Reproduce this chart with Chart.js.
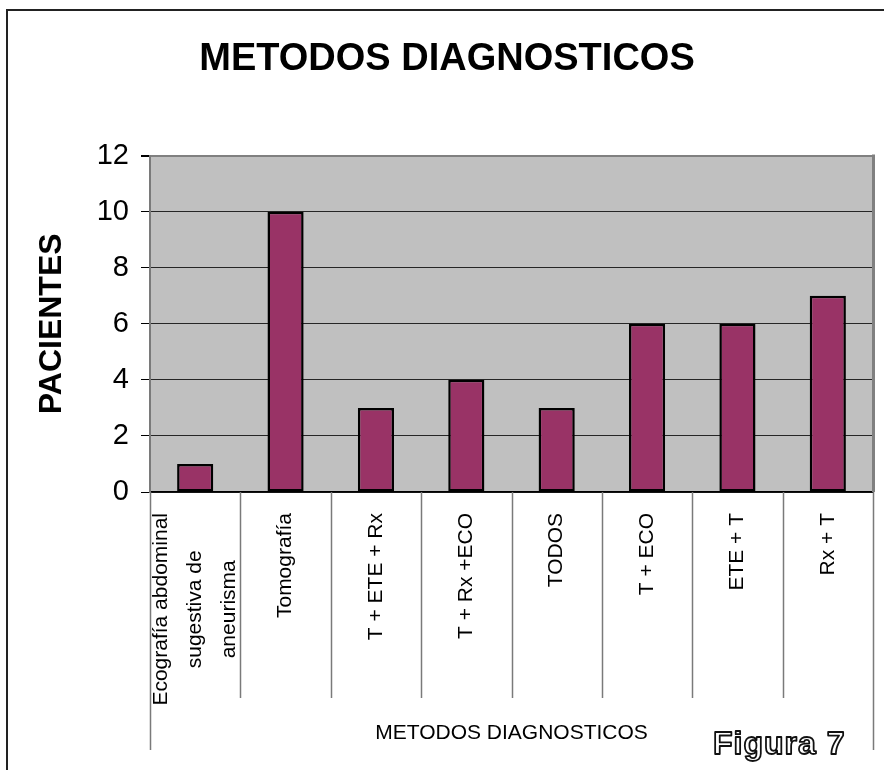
<!DOCTYPE html>
<html>
<head>
<meta charset="utf-8">
<script src="https://cdn.jsdelivr.net/npm/chart.js@4"></script>
<style>
  html, body { margin: 0; padding: 0; background: #fff; }
  #wrap { width: 884px; height: 770px; position: relative; }
</style>
</head>
<body>
<div id="wrap"><canvas id="chart"></canvas></div>
<script>
const categories = [
  ['Ecografía abdominal', 'sugestiva de', 'aneurisma'],
  'Tomografía',
  'T + ETE + Rx',
  'T + Rx +ECO',
  'TODOS',
  'T + ECO',
  'ETE + T',
  'Rx + T',
];
const pacientes = [1, 10, 3, 4, 3, 6, 6, 7];
const yTickValues = [0, 2, 4, 6, 8, 10, 12];

const FONT = "'Liberation Sans', Arial, sans-serif";
Chart.defaults.font.family = FONT;
Chart.defaults.color = '#000';

// gray plot background, right border, frame, category separators, "Figura 7"
const decorations = {
  id: 'decorations',
  beforeDraw(chart) {
    const { ctx, chartArea: a } = chart;
    ctx.save();
    ctx.fillStyle = '#c0c0c0';
    ctx.fillRect(a.left, a.top, a.right - a.left, a.bottom - a.top);
    ctx.restore();

    // centre the wrapped first label like the original
    const xs = chart.scales.x;
    const items = xs.getLabelItems();
    items.forEach((item) => {
      if (!Array.isArray(item.label) || item._adj) return;
      item._adj = true;
      const lh = item.font.lineHeight;
      const n = item.label.length;
      ctx.save();
      ctx.font = item.font.string;
      const longest = Math.max(...item.label.map((l) => ctx.measureText(l).width));
      ctx.restore();
      item.options.translation[0] -= ((n - 1) / 2) * lh;
      item.options.translation[1] += longest / 2;
      item.options.textAlign = 'center';
    });
  },
  afterDraw(chart) {
    const { ctx, chartArea: a } = chart;
    const xs = chart.scales.x;
    ctx.save();

    // right border of plot area
    ctx.strokeStyle = '#808080';
    ctx.lineWidth = 3;
    ctx.beginPath();
    ctx.moveTo(a.right + 0.5, a.top - 1);
    ctx.lineTo(a.right + 0.5, a.bottom);
    ctx.stroke();

    // category separators below the axis
    ctx.strokeStyle = '#7a7a7a';
    ctx.lineWidth = 1.5;
    for (let i = 0; i <= categories.length; i++) {
      const x = Math.round(xs.getPixelForValue(i - 0.5)) + 0.5;
      const outer = i === 0 || i === categories.length;
      ctx.beginPath();
      ctx.moveTo(x, a.bottom);
      ctx.lineTo(x, outer ? 750 : 698);
      ctx.stroke();
    }

    // outer frame (top and left edges)
    ctx.strokeStyle = '#222';
    ctx.lineWidth = 2;
    ctx.beginPath();
    ctx.moveTo(884, 10);
    ctx.lineTo(7, 10);
    ctx.lineTo(7, 770);
    ctx.stroke();

    // "Figura 7" outlined
    ctx.font = 'bold 32px ' + FONT;
    ctx.textBaseline = 'alphabetic';
    ctx.lineJoin = 'round';
    ctx.fillStyle = '#fff';
    ctx.strokeStyle = '#111';
    ctx.lineWidth = 1.8;
    ctx.letterSpacing = '1px';
    ctx.fillText('Figura 7', 713, 754);
    ctx.strokeText('Figura 7', 713, 754);
    ctx.restore();
  },
};

new Chart(document.getElementById('chart'), {
  type: 'bar',
  data: {
    labels: categories,
    datasets: [{
      label: 'PACIENTES',
      data: pacientes,
      backgroundColor: '#993366',
      borderColor: '#000',
      borderWidth: 2.5,
      borderSkipped: false,
      categoryPercentage: 1,
      barPercentage: 0.4,
    }],
  },
  options: {
    responsive: true,
    maintainAspectRatio: false,
    animation: false,
    events: [],
    layout: { padding: { left: 21, right: 11, top: 0, bottom: 0 } },
    plugins: {
      legend: { display: false },
      tooltip: { enabled: false },
      title: {
        display: true,
        text: 'METODOS DIAGNOSTICOS',
        color: '#000',
        font: { size: 38, weight: 'bold', family: FONT },
        padding: { top: 37, bottom: 73 },
      },
    },
    scales: {
      x: {
        offset: true,
        grid: { display: false },
        border: { display: true, color: '#000', width: 1.5 },
        ticks: {
          autoSkip: false,
          minRotation: 90,
          maxRotation: 90,
          padding: 13,
          color: '#000',
          font: { size: 21, family: FONT, lineHeight: 1.6 },
        },
        title: {
          display: true,
          text: 'METODOS DIAGNOSTICOS',
          color: '#000',
          font: { size: 21, family: FONT },
          padding: { top: 0, bottom: 24 },
        },
        afterFit(scale) { scale.height = 278; },
      },
      y: {
        min: yTickValues[0],
        max: yTickValues[yTickValues.length - 1],
        afterBuildTicks(scale) {
          scale.ticks = yTickValues.map((v) => ({ value: v }));
        },
        grid: {
          color: (c) => (c.tick && c.tick.value === 12 ? '#808080' : '#262626'),
          lineWidth: (c) => (c.tick && c.tick.value === 12 ? 2 : 1),
          tickColor: '#000',
          tickLength: 9,
        },
        border: { display: true, color: '#7a7a7a', width: 2 },
        ticks: {
          padding: 12,
          color: '#000',
          font: { size: 29, family: FONT },
        },
        title: {
          display: true,
          text: 'PACIENTES',
          color: '#000',
          font: { size: 32, weight: 'bold', family: FONT },
          padding: { top: 12, bottom: 0 },
        },
        afterFit(scale) { scale.width = 129; },
      },
    },
  },
  plugins: [decorations],
});
</script>
</body>
</html>
